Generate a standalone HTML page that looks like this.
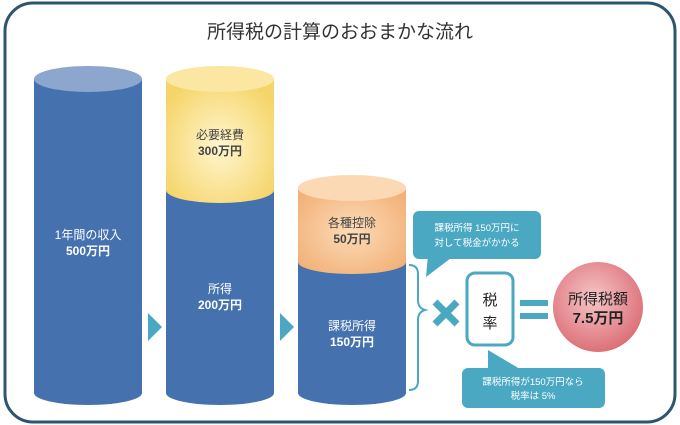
<!DOCTYPE html>
<html><head><meta charset="utf-8"><style>
html,body{margin:0;padding:0;background:#fff}
svg{display:block}
text{font-family:"Liberation Sans","Noto Sans CJK JP",sans-serif}
</style></head><body>
<svg width="680" height="425" viewBox="0 0 680 425" xmlns="http://www.w3.org/2000/svg">
<defs>
<radialGradient id="yel" cx="0.5" cy="0.55" r="0.6"><stop offset="0" stop-color="#fff6d0"/><stop offset="1" stop-color="#f5d56a"/></radialGradient>
<radialGradient id="org" cx="0.5" cy="0.5" r="0.6"><stop offset="0" stop-color="#fbdcb8"/><stop offset="1" stop-color="#f3b27a"/></radialGradient>
<radialGradient id="pink" cx="0.45" cy="0.4" r="0.6"><stop offset="0" stop-color="#f6c6c8"/><stop offset="1" stop-color="#dc7078"/></radialGradient>
</defs>
<rect x="5" y="3" width="670" height="419" rx="28" fill="#fff" stroke="#2c5570" stroke-width="3"/>
<text x="340" y="38" font-size="19" fill="#333" text-anchor="middle">所得税の計算のおおまかな流れ</text>

<path d="M34 79 V393 A54 12 0 0 0 142 393 V79 Z" fill="#4571ae"/>
<ellipse cx="88" cy="79" rx="54" ry="13" fill="#8ca6cd"/>
<text x="88" y="239" font-size="12" fill="#fff" text-anchor="middle">1年間の収入</text>
<text x="88" y="255" font-size="12" fill="#fff" text-anchor="middle" font-weight="bold">500万円</text>

<path d="M166 190 V393 A54 12 0 0 0 274 393 V190 Z" fill="#4571ae"/>
<path d="M166 79 V190 A54 13 0 0 0 274 190 V79 Z" fill="url(#yel)"/>
<ellipse cx="220" cy="79" rx="54" ry="13" fill="#fbe6a2"/>
<text x="220" y="139" font-size="12" fill="#444" text-anchor="middle">必要経費</text>
<text x="220" y="155" font-size="12" fill="#444" text-anchor="middle" font-weight="bold">300万円</text>
<text x="220" y="293" font-size="12" fill="#fff" text-anchor="middle">所得</text>
<text x="220" y="309" font-size="12" fill="#fff" text-anchor="middle" font-weight="bold">200万円</text>

<path d="M298 262 V393 A54 12 0 0 0 406 393 V262 Z" fill="#4571ae"/>
<path d="M298 188 V262 A54 12 0 0 0 406 262 V188 Z" fill="url(#org)"/>
<ellipse cx="352" cy="188" rx="54" ry="13" fill="#fbd9b4"/>
<text x="352" y="227" font-size="12" fill="#444" text-anchor="middle">各種控除</text>
<text x="352" y="243" font-size="12" fill="#444" text-anchor="middle" font-weight="bold">50万円</text>
<text x="352" y="330" font-size="12" fill="#fff" text-anchor="middle">課税所得</text>
<text x="352" y="346" font-size="12" fill="#fff" text-anchor="middle" font-weight="bold">150万円</text>

<polygon points="148,313 162,327 148,341" fill="#4aa8c2"/>
<polygon points="280,313 294,327 280,341" fill="#4aa8c2"/>

<path d="M409 265 Q418 265 418 274 V300 Q418 308 425 310 Q418 312 418 320 V381 Q418 390 409 390" fill="none" stroke="#4aa8c2" stroke-width="2"/>

<g stroke="#4aa8c2" stroke-width="7" stroke-linecap="butt">
<line x1="435" y1="302" x2="457" y2="324"/><line x1="457" y1="302" x2="435" y2="324"/>
</g>
<rect x="467" y="273" width="46" height="72" rx="8" fill="#fff" stroke="#4aa8c2" stroke-width="3"/>
<text x="490" y="305" font-size="15" fill="#222" text-anchor="middle">税</text>
<text x="490" y="328" font-size="15" fill="#222" text-anchor="middle">率</text>
<rect x="520" y="300" width="28" height="6" fill="#4aa8c2"/>
<rect x="520" y="313" width="28" height="6" fill="#4aa8c2"/>
<circle cx="598" cy="307" r="45" fill="url(#pink)"/>
<text x="598" y="304" font-size="15" fill="#222" text-anchor="middle">所得税額</text>
<text x="598" y="323" font-size="15" fill="#222" text-anchor="middle" font-weight="bold">7.5万円</text>

<rect x="413" y="211" width="128" height="48" rx="6" fill="#4aa8c2"/>
<polygon points="428,255 455,255 426,277" fill="#4aa8c2"/>
<text x="477" y="231" font-size="9.5" fill="#fff" text-anchor="middle">課税所得 150万円に</text>
<text x="477" y="246" font-size="9.5" fill="#fff" text-anchor="middle">対して税金がかかる</text>
<rect x="462" y="368" width="143" height="40" rx="6" fill="#4aa8c2"/>
<polygon points="488,350 525,372 488,372" fill="#4aa8c2"/>
<text x="533" y="385" font-size="9.5" fill="#fff" text-anchor="middle">課税所得が150万円なら</text>
<text x="533" y="399" font-size="9.5" fill="#fff" text-anchor="middle">税率は 5%</text>
</svg>
</body></html>
